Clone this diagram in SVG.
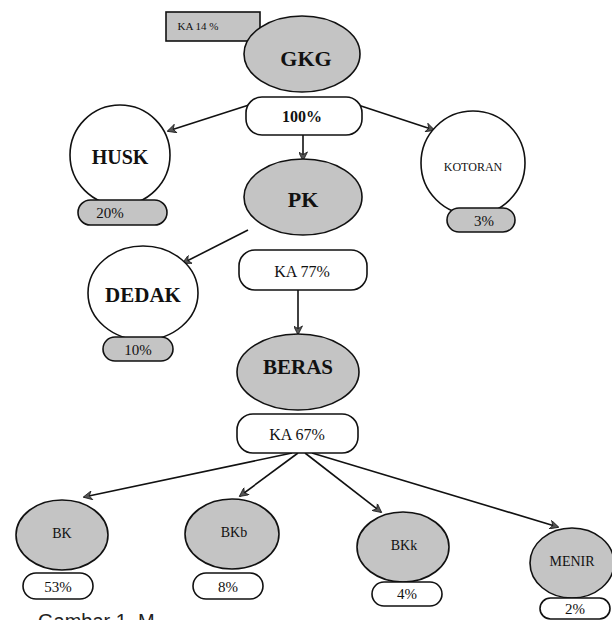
<svg xmlns="http://www.w3.org/2000/svg" width="612" height="620" viewBox="0 0 612 620">
<style>
.g{fill:#c4c4c4;stroke:#111;stroke-width:1.6}
.w{fill:#fff;stroke:#111;stroke-width:1.6}
.t{font-family:"Liberation Serif","Times New Roman",serif;fill:#111;text-anchor:middle;dominant-baseline:central}
.c{stroke:#111;stroke-width:1.6;fill:none;marker-end:url(#ah)}
</style>
<defs>
<marker id="ah" viewBox="0 0 10 10" refX="9" refY="5" markerWidth="11" markerHeight="9" orient="auto" markerUnits="userSpaceOnUse">
<path d="M0,0 L10,5 L0,10 L3,5 Z" fill="#555" stroke="#111" stroke-width="0.8"/>
</marker>
</defs>
<rect width="612" height="620" fill="#fff"/>
<g id="connectors">
<line class="c" x1="252" y1="104" x2="168" y2="131"/>
<line class="c" x1="355" y1="104" x2="434" y2="130"/>
<line class="c" x1="303" y1="135" x2="303" y2="160"/>
<line class="c" x1="248" y1="230" x2="183" y2="263"/>
<line class="c" x1="298" y1="290" x2="298" y2="334"/>
<line class="c" x1="292" y1="453" x2="84" y2="497"/>
<line class="c" x1="298" y1="453" x2="240" y2="496"/>
<line class="c" x1="305" y1="453" x2="381" y2="512"/>
<line class="c" x1="312" y1="453" x2="558" y2="527"/>
</g>
<g id="ka14">
<rect class="g" x="166" y="12" width="94" height="29"/>
<text class="t" x="198" y="26" style="font-size:11px">KA 14 %</text>
</g>
<g id="gkg">
<ellipse class="g" cx="302" cy="54" rx="58" ry="38"/>
<text class="t" x="306" y="58" style="font-size:22px;font-weight:bold">GKG</text>
</g>
<g id="p100">
<rect class="w" x="246" y="97" width="116" height="38" rx="16"/>
<text class="t" x="302" y="116" style="font-size:16px;font-weight:bold">100%</text>
</g>
<g id="husk">
<circle class="w" cx="120" cy="155" r="50"/>
<text class="t" x="120" y="157" style="font-size:20px;font-weight:bold">HUSK</text>
</g>
<g id="p20">
<rect class="g" x="78" y="200" width="89" height="25" rx="12.5"/>
<text class="t" x="110" y="213" style="font-size:15px">20%</text>
</g>
<g id="kotoran">
<circle class="w" cx="473" cy="163" r="52"/>
<text class="t" x="473" y="167" style="font-size:12px">KOTORAN</text>
</g>
<g id="p3">
<rect class="g" x="447" y="208" width="68" height="24" rx="12"/>
<text class="t" x="484" y="221" style="font-size:15px">3%</text>
</g>
<g id="pk">
<ellipse class="g" cx="303" cy="197" rx="59" ry="38"/>
<text class="t" x="303" y="199" style="font-size:22px;font-weight:bold">PK</text>
</g>
<g id="ka77">
<rect class="w" x="239" y="250" width="128" height="40" rx="16"/>
<text class="t" x="302" y="271" style="font-size:16px">KA 77%</text>
</g>
<g id="dedak">
<ellipse class="w" cx="143" cy="293" rx="55" ry="47"/>
<text class="t" x="143" y="295" style="font-size:21px;font-weight:bold">DEDAK</text>
</g>
<g id="p10">
<rect class="g" x="103" y="337" width="70" height="24" rx="12"/>
<text class="t" x="138" y="350" style="font-size:15px">10%</text>
</g>
<g id="beras">
<ellipse class="g" cx="298" cy="372" rx="61" ry="38"/>
<text class="t" x="298" y="367" style="font-size:21px;font-weight:bold">BERAS</text>
</g>
<g id="ka67">
<rect class="w" x="237" y="414" width="121" height="39" rx="16"/>
<text class="t" x="297" y="434" style="font-size:16px">KA 67%</text>
</g>
<g id="bk">
<ellipse class="g" cx="62" cy="535" rx="46" ry="35"/>
<text class="t" x="62" y="533" style="font-size:14px">BK</text>
</g>
<g id="p53">
<rect class="w" x="23" y="573" width="70" height="26" rx="13"/>
<text class="t" x="58" y="587" style="font-size:15px">53%</text>
</g>
<g id="bkb">
<ellipse class="g" cx="232" cy="534" rx="47" ry="35"/>
<text class="t" x="234" y="532" style="font-size:14px">BKb</text>
</g>
<g id="p8">
<rect class="w" x="193" y="573" width="70" height="26" rx="13"/>
<text class="t" x="228" y="587" style="font-size:15px">8%</text>
</g>
<g id="bkk">
<ellipse class="g" cx="403" cy="547" rx="46" ry="35"/>
<text class="t" x="404" y="545" style="font-size:14px">BKk</text>
</g>
<g id="p4">
<rect class="w" x="372" y="582" width="70" height="24" rx="12"/>
<text class="t" x="407" y="594" style="font-size:15px">4%</text>
</g>
<g id="menir">
<ellipse class="g" cx="572" cy="563" rx="42" ry="35"/>
<text class="t" x="572" y="561" style="font-size:14px">MENIR</text>
</g>
<g id="p2">
<rect class="w" x="540" y="598" width="70" height="21" rx="10.5"/>
<text class="t" x="575" y="609" style="font-size:15px">2%</text>
</g>
<text x="38" y="628" style="font-family:'Liberation Sans',Arial,sans-serif;font-size:20px;fill:#222">Gambar 1. M</text>
</svg>
